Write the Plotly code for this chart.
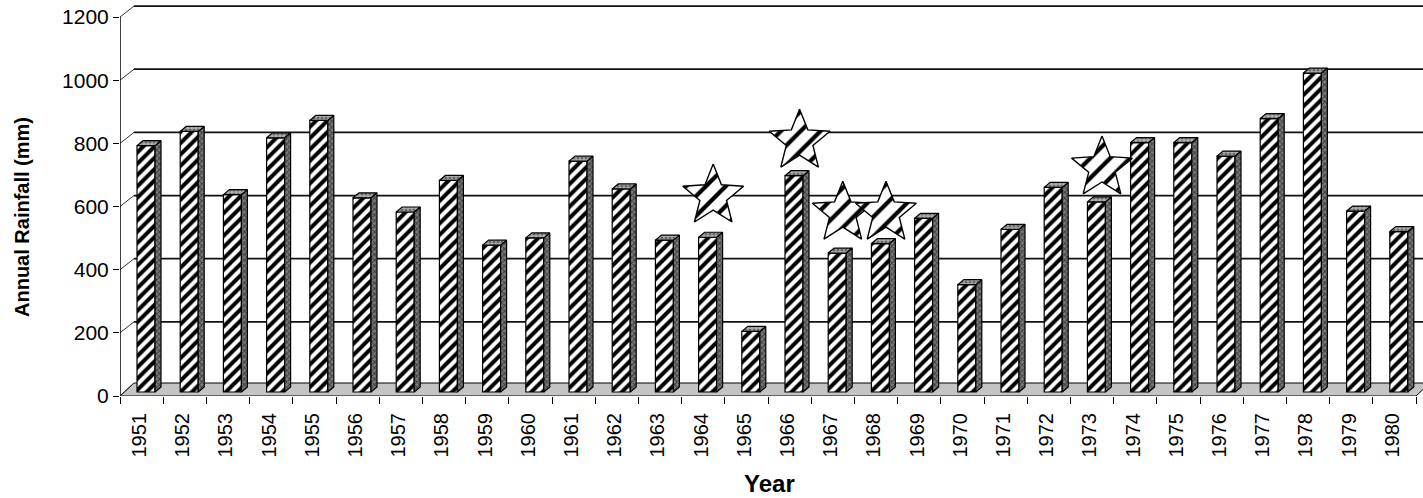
import math
import plotly.graph_objects as go

# Annual rainfall, 1951-1980
years = [str(y) for y in range(1951, 1981)]
rainfall_mm = [780, 825, 625, 805, 860, 615, 570, 670, 465, 488,
               731, 643, 481, 490, 192, 685, 440, 470, 550, 340,
               515, 648, 602, 790, 790, 747, 866, 1010, 573, 508]

# Marked years and the height (mm) at which each star sits
star_years = ["1964", "1966", "1967", "1968", "1973"]
star_levels = [633, 807, 579, 579, 722]

y_ticks = [0, 200, 400, 600, 800, 1000, 1200]

# ---- pseudo-3D geometry (pixel sizes converted to data units) ----
W, H = 1423, 498
M_L, M_B = 120, 102
N = len(years)
PX_PER_CAT = 43.2
Y_TOP = 1254.0
PX_PER_MM = (H - M_B) / Y_TOP

def px_x(p):
    return p / PX_PER_CAT

def px_y(p):
    return p / PX_PER_MM

WALL_DX, WALL_DY = px_x(14), px_y(11)      # depth of the back wall
FLOOR_DY = px_y(13)
LIFT = px_y(4)                             # bars stand slightly behind the front edge
BAR_W = px_x(18)
BAR_SHIFT = px_x(4.4)
SIDE_DX, SIDE_DY = px_x(6), px_y(5)
FONT = "Liberation Sans, Arial, sans-serif"

fig = go.Figure()

# floor, back-wall gridlines and the front value axis
shapes = []
shapes.append(dict(type="path", layer="below",
                   path=f"M 0 0 L {N} 0 L {N + WALL_DX} {FLOOR_DY} L {WALL_DX} {FLOOR_DY} Z",
                   fillcolor="#c4c4c4", line=dict(color="black", width=1)))
for v in y_ticks:
    if v > 0:
        shapes.append(dict(type="line", layer="below", x0=WALL_DX, x1=N + WALL_DX,
                           y0=v + WALL_DY, y1=v + WALL_DY,
                           line=dict(color="#111111", width=1.8)))
    shapes.append(dict(type="line", layer="below", x0=0, x1=WALL_DX,
                       y0=v, y1=v + (WALL_DY if v > 0 else FLOOR_DY),
                       line=dict(color="#333333", width=1)))
shapes.append(dict(type="line", layer="above", x0=0, x1=0, y0=0, y1=y_ticks[-1],
                   line=dict(color="black", width=1.5)))

# front faces of the columns
xs = [i + 0.5 + BAR_SHIFT for i in range(N)]
fig.add_trace(go.Bar(
    x=xs, y=rainfall_mm, base=LIFT, width=BAR_W,
    marker=dict(color="white", line=dict(color="black", width=1.2),
                pattern=dict(shape="/", size=8, solidity=0.5, fgopacity=1,
                             fgcolor="black", bgcolor="white")),
    hoverinfo="skip", showlegend=False))

# side and top faces
side_x, side_y, top_x, top_y = [], [], [], []
for x, v in zip(xs, rainfall_mm):
    xl, xr = x - BAR_W / 2, x + BAR_W / 2
    top = LIFT + v
    side_x += [xr, xr + SIDE_DX, xr + SIDE_DX, xr, xr, None]
    side_y += [LIFT, LIFT + SIDE_DY, top + SIDE_DY, top, LIFT, None]
    top_x += [xl, xr, xr + SIDE_DX, xl + SIDE_DX, xl, None]
    top_y += [top, top, top + SIDE_DY, top + SIDE_DY, top, None]

fig.add_trace(go.Scatter(x=side_x, y=side_y, mode="lines", fill="toself",
                         fillcolor="#4a4a4a", line=dict(color="black", width=1.2),
                         fillpattern=dict(shape="x", size=4, solidity=0.45,
                                          fgcolor="black", bgcolor="#7a7a7a"),
                         hoverinfo="skip", showlegend=False))
fig.add_trace(go.Scatter(x=top_x, y=top_y, mode="lines", fill="toself",
                         fillcolor="#9a9a9a", line=dict(color="black", width=1.2),
                         fillpattern=dict(shape=".", size=4, solidity=0.5,
                                          fgcolor="#222222", bgcolor="#b0b0b0"),
                         hoverinfo="skip", showlegend=False))

# hatched stars over the marked years
R_OUT, R_IN = 32, 14
for yr, lvl in zip(star_years, star_levels):
    cx = years.index(yr) + 0.5 + px_x(10)
    sx, sy = [], []
    for k in range(11):
        r = R_OUT if k % 2 == 0 else R_IN
        a = math.pi / 2 + k * math.pi / 5
        sx.append(cx + px_x(r * math.cos(a)))
        sy.append(lvl + px_y(r * math.sin(a)))
    fig.add_trace(go.Scatter(x=sx, y=sy, mode="lines", fill="toself",
                             fillcolor="white", line=dict(color="black", width=1.4),
                             fillpattern=dict(shape="/", size=14, solidity=0.3,
                                              fgopacity=1,
                                              fgcolor="black", bgcolor="white"),
                             hoverinfo="skip", showlegend=False))

fig.update_layout(
    width=W, height=H,
    margin=dict(l=M_L, r=0, t=0, b=M_B),
    paper_bgcolor="white", plot_bgcolor="white",
    shapes=shapes,
    xaxis=dict(range=[0, (W - M_L) / PX_PER_CAT], showgrid=False, zeroline=False,
               tickmode="array", tickvals=[i + 0.45 for i in range(N)], ticktext=years,
               tickangle=-90, ticks="outside", ticklen=8, tickcolor="rgba(0,0,0,0)",
               tickfont=dict(family=FONT, size=20, color="black"),
               minor=dict(tickmode="array", tickvals=list(range(N + 1)),
                          ticks="outside", ticklen=7, tickcolor="black", tickwidth=1.2),
               fixedrange=True),
    yaxis=dict(range=[0, Y_TOP], showgrid=False, zeroline=False,
               tickmode="array", tickvals=y_ticks,
               ticks="outside", ticklen=6, tickcolor="black", tickwidth=1.2,
               tickfont=dict(family=FONT, size=21, color="black"),
               fixedrange=True),
    annotations=[
        dict(text="<b>Annual Rainfall (mm)</b>", textangle=-90, showarrow=False,
             xref="paper", yref="paper", x=-M_L / (W - M_L) + 22 / (W - M_L),
             y=1 - 217 / (H - M_B), xanchor="center", yanchor="middle",
             font=dict(family=FONT, size=20, color="black")),
        dict(text="<b>Year</b>", showarrow=False, xref="paper", yref="paper",
             x=(769 - M_L) / (W - M_L), y=-(483 - (H - M_B)) / (H - M_B),
             xanchor="center", yanchor="middle",
             font=dict(family=FONT, size=24, color="black")),
    ],
)

fig.write_html("out.html")
